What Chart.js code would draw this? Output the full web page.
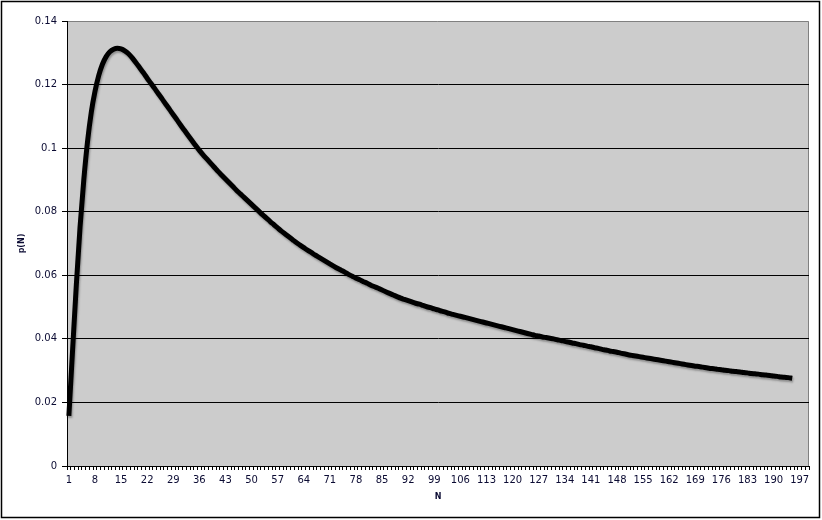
<!DOCTYPE html>
<html>
<head>
<meta charset="utf-8">
<title>p(N)</title>
<script src="https://cdn.jsdelivr.net/npm/chart.js@4.4.1/dist/chart.umd.min.js"></script>
<style>
  html, body { margin: 0; padding: 0; background: #ffffff; overflow: hidden; }
  canvas { display: block; }
</style>
</head>
<body>
<canvas id="chart" width="822" height="520"></canvas>
<script>
// categories N = 1..199, labels shown every 7th one
const categories = Array.from({ length: 199 }, (_, i) => i + 1);
const tickLabels = ['1', '8', '15', '22', '29', '36', '43', '50', '57', '64', '71', '78', '85', '92', '99',
  '106', '113', '120', '127', '134', '141', '148', '155', '162', '169', '176', '183', '190', '197'];
const yTicks = [0, 0.02, 0.04, 0.06, 0.08, 0.1, 0.12, 0.14];

// p(N), N = 1..195
const pValues = [
  0.0158, 0.0365, 0.0570, 0.0752, 0.0900, 0.1020, 0.1112, 0.1178, 0.1228, 0.1264,
  0.1288, 0.1303, 0.1311, 0.1314, 0.1312, 0.1306, 0.1297, 0.1284, 0.1269, 0.1253,
  0.1237, 0.1220, 0.1204, 0.1188, 0.1171, 0.1155, 0.1138, 0.1122, 0.1105, 0.1089,
  0.1072, 0.1056, 0.1040, 0.1024, 0.1008, 0.0993, 0.0979, 0.0966, 0.0953, 0.0940,
  0.0927, 0.0915, 0.0903, 0.0891, 0.0879, 0.0867, 0.0856, 0.0845, 0.0834, 0.0823,
  0.0812, 0.0801, 0.0790, 0.0780, 0.0769, 0.0759, 0.0749, 0.0739, 0.0730, 0.0721,
  0.0712, 0.0703, 0.0695, 0.0687, 0.0679, 0.0672, 0.0664, 0.0657, 0.0650, 0.0643,
  0.0636, 0.0629, 0.0622, 0.0616, 0.0610, 0.0603, 0.0597, 0.0591, 0.0586, 0.0580,
  0.0575, 0.0569, 0.0564, 0.0559, 0.0554, 0.0548, 0.0543, 0.0538, 0.0533, 0.0528,
  0.0524, 0.0520, 0.0516, 0.0512, 0.0509, 0.0505, 0.0501, 0.0498, 0.0494, 0.0491,
  0.0487, 0.0484, 0.0480, 0.0477, 0.0474, 0.0471, 0.0468, 0.0465, 0.0462, 0.0459,
  0.0456, 0.0453, 0.0450, 0.0447, 0.0444, 0.0441, 0.0438, 0.0435, 0.0432, 0.0429,
  0.0426, 0.0423, 0.0420, 0.0417, 0.0414, 0.0411, 0.0409, 0.0406, 0.0404, 0.0402,
  0.0400, 0.0397, 0.0395, 0.0392, 0.0390, 0.0387, 0.0385, 0.0382, 0.0380, 0.0377,
  0.0375, 0.0372, 0.0370, 0.0367, 0.0365, 0.0362, 0.0360, 0.0358, 0.0355, 0.0353,
  0.0350, 0.0348, 0.0346, 0.0344, 0.0342, 0.0340, 0.0338, 0.0336, 0.0334, 0.0332,
  0.0330, 0.0328, 0.0326, 0.0324, 0.0322, 0.0320, 0.0318, 0.0316, 0.0314, 0.0313,
  0.0311, 0.0309, 0.0307, 0.0306, 0.0304, 0.0303, 0.0301, 0.0300, 0.0298, 0.0297,
  0.0296, 0.0294, 0.0293, 0.0291, 0.0290, 0.0289, 0.0287, 0.0286, 0.0285, 0.0283,
  0.0282, 0.0280, 0.0279, 0.0278, 0.0276
];

const textColor = '#0b0b33';
const tickFont = { family: '"DejaVu Sans", Verdana, sans-serif', size: 10 };
const titleFont = { family: '"DejaVu Sans", Verdana, sans-serif', size: 8, weight: 'bold' };

// grey plot area, grey top/right edge, outer frame
const framePlugin = {
  id: 'frame',
  beforeDraw(chart) {
    const { ctx, chartArea: a } = chart;
    ctx.save();
    ctx.fillStyle = '#cccccc';
    ctx.fillRect(a.left, a.top, a.right - a.left, a.bottom - a.top);
    ctx.strokeStyle = '#808080';
    ctx.lineWidth = 1;
    ctx.beginPath();
    ctx.moveTo(a.left, a.top + 0.5);
    ctx.lineTo(a.right - 0.5, a.top + 0.5);
    ctx.lineTo(a.right - 0.5, a.bottom);
    ctx.stroke();
    ctx.restore();
  },
  afterDraw(chart) {
    const ctx = chart.ctx;
    ctx.save();
    ctx.strokeStyle = '#000000';
    ctx.lineWidth = 1.5;
    ctx.strokeRect(1.5, 1.5, 818, 516);
    ctx.restore();
  }
};

// soft shadow under the curve
const shadowPlugin = {
  id: 'lineShadow',
  beforeDatasetDraw(chart) {
    const ctx = chart.ctx;
    ctx.save();
    ctx.shadowColor = 'rgba(0, 0, 0, 0.3)';
    ctx.shadowOffsetX = 1;
    ctx.shadowOffsetY = 2;
    ctx.shadowBlur = 2;
  },
  afterDatasetDraw(chart) {
    chart.ctx.restore();
  }
};

new Chart(document.getElementById('chart'), {
  type: 'line',
  data: {
    labels: categories,
    datasets: [{
      label: 'p(N)',
      data: pValues,
      borderColor: '#000000',
      borderWidth: 5,
      pointRadius: 0,
      cubicInterpolationMode: 'monotone',
      fill: false
    }]
  },
  options: {
    responsive: false,
    devicePixelRatio: 1,
    animation: false,
    layout: { padding: { left: 0, top: 21, right: 13, bottom: 0 } },
    plugins: {
      legend: { display: false },
      tooltip: { enabled: false }
    },
    scales: {
      x: {
        type: 'category',
        offset: true,
        grid: {
          offset: true,
          drawOnChartArea: false,
          drawTicks: true,
          tickLength: 4,
          color: '#000000'
        },
        border: { color: '#000000', width: 1 },
        ticks: {
          autoSkip: false,
          maxRotation: 0,
          minRotation: 0,
          padding: 4,
          color: textColor,
          font: tickFont,
          callback: function (value, index) {
            const lab = String(categories[index]);
            return tickLabels.includes(lab) ? lab : '';
          }
        },
        title: {
          display: true,
          text: 'N',
          color: textColor,
          font: titleFont,
          padding: { top: 0, bottom: 18 }
        },
        afterFit: function (scale) { scale.height = 54; }
      },
      y: {
        min: 0,
        max: 0.14,
        afterBuildTicks: function (scale) {
          scale.ticks = yTicks.map(v => ({ value: v }));
        },
        grid: {
          color: function (c) {
            return c.tick && c.tick.value >= 0.139 ? 'rgba(0,0,0,0)' : '#000000';
          },
          tickColor: '#000000',
          lineWidth: 1,
          tickLength: 5
        },
        border: { color: '#000000', width: 1 },
        ticks: {
          padding: 5,
          color: textColor,
          font: tickFont,
          callback: v => String(+v.toFixed(2))
        },
        title: {
          display: true,
          text: 'p(N)',
          color: textColor,
          font: titleFont,
          padding: { top: 17, bottom: 0 }
        },
        afterFit: function (scale) { scale.width = 67; }
      }
    }
  },
  plugins: [framePlugin, shadowPlugin]
});
</script>
</body>
</html>
